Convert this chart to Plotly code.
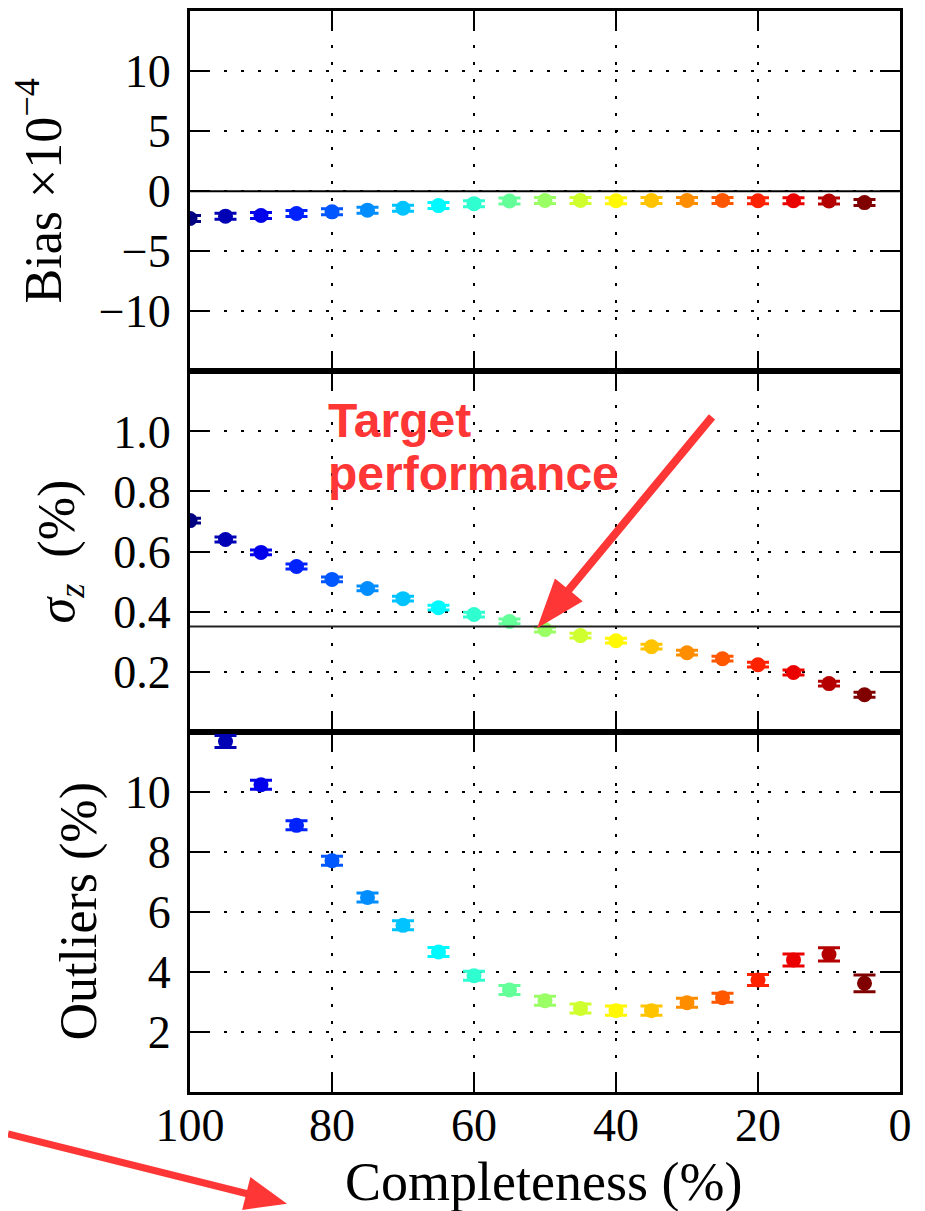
import math
import plotly.graph_objects as go
from plotly.subplots import make_subplots

# ---------------- data ----------------
completeness = [100, 95, 90, 85, 80, 75, 70, 65, 60, 55, 50, 45, 40, 35, 30, 25, 20, 15, 10, 5]
bias = [-2.27, -2.08, -2.02, -1.86, -1.72, -1.58, -1.42, -1.20, -1.04, -0.82,
        -0.77, -0.77, -0.80, -0.77, -0.77, -0.77, -0.80, -0.80, -0.82, -0.95]
bias_err = [0.25] * 20
sigma = [0.703, 0.640, 0.597, 0.550, 0.507, 0.477, 0.443, 0.413, 0.390, 0.367,
         0.340, 0.320, 0.303, 0.283, 0.263, 0.243, 0.223, 0.197, 0.160, 0.123]
sigma_err = [0.008] * 20
outliers = [13.6, 11.67, 10.23, 8.88, 7.70, 6.48, 5.55, 4.66, 3.87, 3.40,
            3.04, 2.78, 2.71, 2.71, 2.97, 3.14, 3.73, 4.40, 4.58, 3.62]
outliers_err = [0.2, 0.2, 0.15, 0.15, 0.15, 0.15, 0.15, 0.15, 0.15, 0.15,
                0.15, 0.15, 0.15, 0.15, 0.15, 0.15, 0.18, 0.2, 0.22, 0.28]
target_sigma = 0.35

x_ticks = [0, 20, 40, 60, 80, 100]
bias_ticks = [-10, -5, 0, 5, 10]
sigma_ticks = [0.2, 0.4, 0.6, 0.8, 1.0]
outlier_ticks = [2, 4, 6, 8, 10]

# ---------------- style ----------------
OFF = 8  # page body margin
W, H = 925 - OFF, 1211 - OFF
ML, MR, MT, MB = 190 - OFF, 25, 0, 119
PW, PH = W - ML - MR, H - MT - MB
SERIF = "Liberation Serif"
RED = "#ff3636"


def jet(t):
    def c(v):
        return max(0.0, min(1.0, v))
    r = c(1.5 - abs(4 * t - 3))
    g = c(1.5 - abs(4 * t - 2))
    b = c(1.5 - abs(4 * t - 1))
    return "rgb(%d,%d,%d)" % (round(r * 255), round(g * 255), round(b * 255))


n = len(completeness)
colors = [jet(i / (n - 1)) for i in range(n)]

fig = make_subplots(rows=3, cols=1, shared_xaxes=True, vertical_spacing=0)

panels = [(bias, bias_err, 1), (sigma, sigma_err, 2), (outliers, outliers_err, 3)]
for vals, errs, row in panels:
    for i in range(n):
        fig.add_trace(go.Scatter(
            x=[completeness[i]], y=[vals[i]], mode="markers",
            marker=dict(size=15, color=colors[i], line=dict(width=0)),
            error_y=dict(type="data", array=[errs[i]], color=colors[i],
                         thickness=3, width=11, visible=True),
            showlegend=False, hoverinfo="skip"), row=row, col=1)

grid = dict(showgrid=True, gridcolor="black", griddash="3px,14px", gridwidth=1.8,
            showline=True, linecolor="black", linewidth=3, mirror="ticks",
            ticks="inside", ticklen=20, tickwidth=2, tickcolor="black",
            zeroline=False, tickfont=dict(family=SERIF, size=46, color="black"))

for row in (1, 2, 3):
    fig.update_xaxes(range=[100, 0], tickvals=x_ticks, showticklabels=(row == 3),
                     ticklabelstandoff=-9, row=row, col=1, **grid)

fig.update_yaxes(range=[-15, 15], tickvals=bias_ticks, ticklabelstandoff=7, row=1, col=1, **grid)
fig.update_yaxes(range=[0, 1.2], tickvals=sigma_ticks, tickformat=".1f", ticklabelstandoff=7, row=2, col=1, **grid)
fig.update_yaxes(range=[0, 12], tickvals=outlier_ticks, ticklabelstandoff=7, row=3, col=1, **grid)

# reference lines
fig.add_shape(type="line", xref="x domain", yref="y", x0=0, x1=1, y0=0, y1=0,
              line=dict(color="black", width=2), layer="above")
fig.add_shape(type="line", xref="x2 domain", yref="y2", x0=0, x1=1, y0=target_sigma, y1=target_sigma,
              line=dict(color="#222222", width=2), layer="above")


def to_paper(px, py):
    # px, py are page pixel positions
    return (px - OFF - ML) / PW, (MT + PH - (py - OFF)) / PH


def arrow_path(tail, tip, shaft_w, head_len, head_w):
    dx, dy = tip[0] - tail[0], tip[1] - tail[1]
    L = math.hypot(dx, dy)
    ux, uy = dx / L, dy / L
    nx, ny = -uy, ux
    bx, by = tip[0] - ux * head_len, tip[1] - uy * head_len
    pts = [
        (tail[0] + nx * shaft_w / 2, tail[1] + ny * shaft_w / 2),
        (bx + nx * shaft_w / 2, by + ny * shaft_w / 2),
        (bx + nx * head_w / 2, by + ny * head_w / 2),
        tip,
        (bx - nx * head_w / 2, by - ny * head_w / 2),
        (bx - nx * shaft_w / 2, by - ny * shaft_w / 2),
        (tail[0] - nx * shaft_w / 2, tail[1] - ny * shaft_w / 2),
    ]
    pp = [to_paper(*p) for p in pts]
    return "M " + " L ".join("%.5f,%.5f" % p for p in pp) + " Z"


fig.add_shape(type="path", xref="paper", yref="paper",
              path=arrow_path((712, 415), (537, 627), 8, 50, 36),
              fillcolor=RED, line=dict(width=0), layer="above")
fig.add_shape(type="path", xref="paper", yref="paper",
              path=arrow_path((8, 1134), (287, 1204), 7, 42, 34),
              fillcolor=RED, line=dict(width=0), layer="above")

ann = []
for txt, py in (("Target", 419), ("performance", 472)):
    xp, yp = to_paper(326, py)
    ann.append(dict(text="<b>%s</b>" % txt, xref="paper", yref="paper", x=xp, y=yp,
                    xanchor="left", yanchor="middle", showarrow=False,
                    font=dict(family="Liberation Sans", size=48, color=RED)))

# axis titles
xp, yp = to_paper(543, 1182)
ann.append(dict(text="Completeness (%)", xref="paper", yref="paper", x=xp, y=yp,
                xanchor="center", yanchor="middle", showarrow=False,
                font=dict(family=SERIF, size=54, color="black")))
ytitles = [("Bias ×10<sup>−4</sup>", 40, 188),
           ("<i>σ</i><sub><i>z</i></sub>  (%)", 60, 550),
           ("Outliers (%)", 79, 911)]
for txt, px, py in ytitles:
    xp, yp = to_paper(px, py)
    ann.append(dict(text=txt, xref="paper", yref="paper", x=xp, y=yp, textangle=-90,
                    xanchor="center", yanchor="middle", showarrow=False,
                    font=dict(family=SERIF, size=52, color="black")))

fig.update_layout(width=W, height=H, margin=dict(l=ML, r=MR, t=MT, b=MB),
                  paper_bgcolor="white", plot_bgcolor="white",
                  annotations=ann, showlegend=False)

fig.write_html("out.html")
